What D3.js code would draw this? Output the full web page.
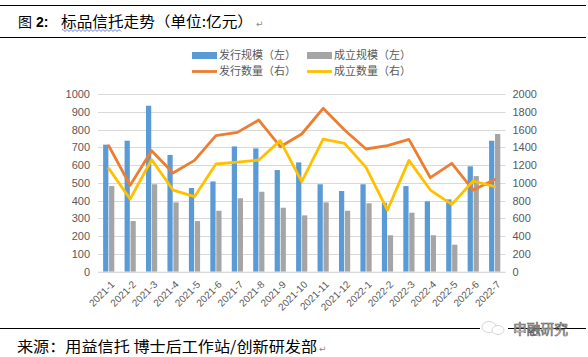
<!DOCTYPE html>
<html><head><meta charset="utf-8">
<script src="https://cdn.jsdelivr.net/npm/d3@7"></script>
<style>
html,body{margin:0;padding:0;background:#fff;}
svg{display:block;}
</style></head>
<body>
<svg id="c" width="588" height="357"></svg>
<script>
const categories = ["2021-1","2021-2","2021-3","2021-4","2021-5","2021-6","2021-7","2021-8","2021-9","2021-10","2021-11","2021-12","2022-1","2022-2","2022-3","2022-4","2022-5","2022-6","2022-7"];
const issueScale = [715,737,934,657,471,508,705,694,572,615,492,454,492,388,482,396,407,593,737];
const establishScale = [482,285,492,390,285,343,413,450,360,317,390,343,385,205,332,205,152,538,775];
const issueCount = [1418,972,1362,1111,1253,1531,1568,1707,1407,1550,1839,1595,1381,1418,1490,1058,1220,919,1039];
const establishCount = [1163,818,1261,919,844,1212,1234,1257,1475,1013,1493,1445,1174,694,1253,919,758,1021,957];
const leftTicks = [0,100,200,300,400,500,600,700,800,900,1000];
const rightTicks = [0,200,400,600,800,1000,1200,1400,1600,1800,2000];
const legendNames = ["发行规模（左）","成立规模（左）","发行数量（右）","成立数量（右）"];

const svg = d3.select("#c");
const C = {blue:"#5B9BD5", gray:"#A5A5A5", orange:"#ED7D31", yellow:"#FFC000", text:"#595959", grid:"#D9D9D9"};
const cjk = "'Noto Sans CJK SC','Noto Sans',sans-serif";

// top rules + title
svg.append("line").attr("x1",0).attr("x2",586).attr("y1",5.5).attr("y2",5.5).attr("stroke","#000").attr("stroke-width",1);
svg.append("line").attr("x1",0).attr("x2",586).attr("y1",37.5).attr("y2",37.5).attr("stroke","#000").attr("stroke-width",1);
svg.append("text").attr("x",18).attr("y",27).attr("font-family",cjk).attr("font-size",14).attr("fill","#000").text("图");
svg.append("text").attr("x",36).attr("y",27).attr("font-family","'Liberation Sans',sans-serif").attr("font-weight","bold").attr("font-size",14).attr("fill","#000").text("2:");
svg.append("text").attr("x",61).attr("y",27).attr("font-family",cjk).attr("font-size",14.5).attr("fill","#000")
  .attr("textLength",192).attr("lengthAdjust","spacingAndGlyphs").text("标品信托走势（单位:亿元）");
svg.append("text").attr("x",256).attr("y",27).attr("font-family","'DejaVu Sans',sans-serif").attr("font-size",9).attr("fill","#888").text("↵");
// wavy spell-check underline
{
  let p = "M62,30"; for (let x=62; x<122; x+=2) p += ` L${x+1},${(x/2)%2===0?31.5:29.5}`;
  svg.append("path").attr("d",p).attr("fill","none").attr("stroke","#3b5bdb").attr("stroke-width",0.8);
}

// scales
const plotL = 98, plotR = 505.4, y0 = 271.7, y1 = 94;
const x = d3.scaleBand().domain(categories).range([plotL, plotR]).paddingInner(0).paddingOuter(0);
const xs = d3.scaleBand().domain(["issue","establish"]).range([-5.6, 5.6]).paddingInner(0.12);
const yL = d3.scaleLinear().domain([0,1000]).range([y0,y1]);
const yR = d3.scaleLinear().domain([0,2000]).range([y0,y1]);

// gridlines
svg.append("g").selectAll("line").data(leftTicks).join("line")
  .attr("x1",plotL).attr("x2",plotR).attr("y1",d=>Math.round(yL(d))+0.5).attr("y2",d=>Math.round(yL(d))+0.5)
  .attr("stroke",C.grid).attr("stroke-width",1);

// axes labels
const fmt = d3.format("d");
const axL = svg.append("g").attr("transform",`translate(${plotL},0)`).call(d3.axisLeft(yL).tickValues(leftTicks).tickFormat(fmt).tickSize(0).tickPadding(8));
axL.select(".domain").remove();
axL.selectAll("text").attr("font-family","'Liberation Sans',sans-serif").attr("font-size",11).attr("fill",C.text);
const axR = svg.append("g").attr("transform",`translate(${plotR},0)`).call(d3.axisRight(yR).tickValues(rightTicks).tickFormat(fmt).tickSize(0).tickPadding(7));
axR.select(".domain").remove();
axR.selectAll("text").attr("font-family","'Liberation Sans',sans-serif").attr("font-size",11).attr("fill",C.text);

// bars
const cx = d => x(d) + x.bandwidth()/2;
svg.append("g").selectAll("rect").data(categories).join("rect")
  .attr("x",(d)=>cx(d)+xs("issue")).attr("width",xs.bandwidth())
  .attr("y",(d,i)=>yL(issueScale[i])).attr("height",(d,i)=>y0-yL(issueScale[i])).attr("fill",C.blue);
svg.append("g").selectAll("rect").data(categories).join("rect")
  .attr("x",(d)=>cx(d)+xs("establish")).attr("width",xs.bandwidth())
  .attr("y",(d,i)=>yL(establishScale[i])).attr("height",(d,i)=>y0-yL(establishScale[i])).attr("fill",C.gray);

// baseline
svg.append("line").attr("x1",plotL).attr("x2",plotR).attr("y1",y0+0.5).attr("y2",y0+0.5).attr("stroke",C.grid);

// lines
const line = d3.line().x((d,i)=>cx(categories[i])).y(d=>yR(d));
svg.append("path").datum(issueCount).attr("d",line).attr("fill","none").attr("stroke",C.orange).attr("stroke-width",2.8).attr("stroke-linejoin","round").attr("stroke-linecap","round");
svg.append("path").datum(establishCount).attr("d",line).attr("fill","none").attr("stroke",C.yellow).attr("stroke-width",2.8).attr("stroke-linejoin","round").attr("stroke-linecap","round");

// x labels
svg.append("g").selectAll("text").data(categories).join("text")
  .attr("transform",d=>`translate(${cx(d)+4},${y0+11}) rotate(-45)`)
  .attr("text-anchor","end").attr("dy","0.35em")
  .attr("font-family","'Liberation Sans',sans-serif").attr("font-size",10).attr("fill",C.text).text(d=>d);

// legend
const leg = [
  {name:legendNames[0], type:"rect", color:C.blue, x:192, y:55.5},
  {name:legendNames[1], type:"rect", color:C.gray, x:307, y:55.5},
  {name:legendNames[2], type:"line", color:C.orange, x:192, y:71.5},
  {name:legendNames[3], type:"line", color:C.yellow, x:307, y:71.5}
];
const lg = svg.append("g").selectAll("g").data(leg).join("g");
lg.filter(d=>d.type==="rect").append("rect").attr("x",d=>d.x).attr("y",d=>d.y-3.5).attr("width",25).attr("height",7).attr("fill",d=>d.color);
lg.filter(d=>d.type==="line").append("line").attr("x1",d=>d.x).attr("x2",d=>d.x+25).attr("y1",d=>d.y).attr("y2",d=>d.y).attr("stroke",d=>d.color).attr("stroke-width",2.8);
lg.append("text").attr("x",d=>d.x+27).attr("y",d=>d.y).attr("dy","0.36em").attr("font-family",cjk).attr("font-size",11).attr("fill",C.text).text(d=>d.name);

// footer
svg.append("line").attr("x1",0).attr("x2",586).attr("y1",328.5).attr("y2",328.5).attr("stroke","#000").attr("stroke-width",1);
svg.append("rect").attr("x",480).attr("y",320).attr("width",28).attr("height",15).attr("fill","#fff");
svg.append("ellipse").attr("cx",489).attr("cy",327).attr("rx",7).attr("ry",5.5).attr("fill","none").attr("stroke","#ccc").attr("stroke-width",0.8);
svg.append("ellipse").attr("cx",498).attr("cy",330).attr("rx",6).attr("ry",4.5).attr("fill","#fff").attr("stroke","#ccc").attr("stroke-width",0.8);
svg.append("text").attr("x",513).attr("y",329).attr("dy","0.35em").attr("font-family",cjk).attr("font-size",13.5).attr("fill","#fff").attr("stroke","#666").attr("stroke-width",0.7)
  .attr("textLength",55).attr("lengthAdjust","spacingAndGlyphs").text("申融研究");
svg.append("text").attr("x",17).attr("y",352).attr("font-family",cjk).attr("font-size",15).attr("fill","#000")
  .attr("textLength",300).attr("lengthAdjust","spacingAndGlyphs").text("来源：用益信托 博士后工作站/创新研发部");
svg.append("text").attr("x",319).attr("y",352).attr("font-family","'DejaVu Sans',sans-serif").attr("font-size",9).attr("fill","#888").text("↵");
</script>
</body></html>
